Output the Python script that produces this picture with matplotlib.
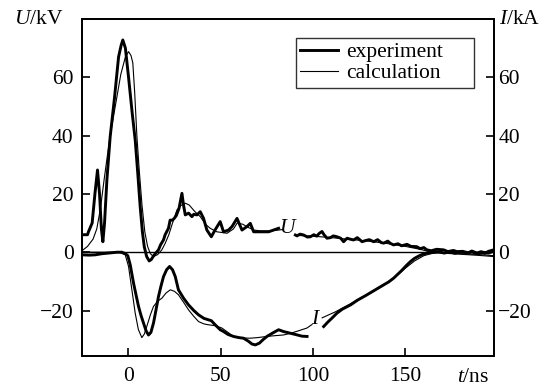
import matplotlib
matplotlib.use("Agg")
import matplotlib.pyplot as plt

plt.rcParams['font.family'] = ['Liberation Serif', 'DejaVu Serif']
plt.rcParams['mathtext.fontset'] = 'custom'
plt.rcParams['mathtext.rm'] = 'Liberation Serif'
plt.rcParams['mathtext.it'] = 'Liberation Serif:italic'

# ---- data (t in ns) ----
u_exp_t1 = [-25, -22, -21.5, -19.5, -18, -16.6, -15.5, -14.5, -13.7, -12.8, -11.5, -9.75, -7.4, -5.2,
            -3.8, -2.9, -1.5, 0.2, 2.3, 3.8, 5.2, 6.5, 7.7, 8.7, 10, 11.4, 12.5, 14, 16.4, 17.5, 19.1,
            20, 21.8, 22.7, 24, 24.9, 26, 27.5, 29.1, 30, 30.9, 32.7, 34.5, 35.5, 37.2, 39, 40.8, 42.6,
            45, 47, 49.8, 51.6, 54.3, 56.2, 58.9, 61.6, 64.3, 66.1, 67.9, 70.6, 73.3, 76, 78.7, 81.4]
u_exp_v1 = [6, 6, 7, 10, 20, 28.2, 20, 8, 3.6, 10, 25, 39.6, 53, 67,
            71, 72.8, 70, 60, 47, 38.5, 27, 15.6, 7, 1.9, -1.5, -3, -2.5, -1, 0.8, 2.5, 4.2,
            6, 8.2, 11, 11, 11.6, 12.5, 15, 20.2, 16, 12.8, 13.4, 12.2, 13, 12.8, 13.9, 11.6, 7.6,
            5.3, 7.6, 10.5, 7, 7.6, 8.8, 11.6, 7.6, 8.8, 9.9, 7, 7, 7, 7, 7.6, 8.2]
u_exp_t2 = [90.5, 91.4, 93, 95, 97, 98.6, 100.5, 102, 103.5, 104.9, 106, 107.6, 109.5, 111, 113, 115,
            116.6, 118.5, 120, 122, 124, 126.6, 128.5, 130.5, 132.9, 135, 137, 138.3, 140.5, 142,
            143.7, 146, 148, 150.9, 153, 156.2, 158, 160, 161.7, 164, 167, 170.8, 173, 176, 178, 181,
            184, 186, 188.8, 191, 193, 195, 197.8]
u_exp_v2 = [5.9, 5.6, 6.2, 5.9, 5.2, 5.3, 6.0, 5.5, 6.5, 7.1, 6.0, 4.8, 5.0, 5.6, 5.3, 4.8,
            3.6, 4.8, 4.5, 4.2, 5.0, 3.6, 4.0, 4.3, 3.6, 4.3, 3.3, 3.1, 3.8, 3.0,
            2.5, 2.9, 2.2, 2.7, 2.0, 1.9, 1.2, 1.6, 0.8, 0.5, 1.0, 0.8, 0.2, 0.6, 0.2, 0.3,
            -0.2, 0.4, -0.3, 0.2, -0.4, 0.3, 0.8]

u_calc_t1 = [-25, -22, -19, -17, -15, -13, -10, -7, -4, -1.5, 0.2, 1.5, 2.5, 3.5, 4.7, 6, 7.5, 9,
             10.5, 12, 13.7, 16, 18.2, 20, 22, 24, 26.4, 28.5, 30.9, 33, 36, 39, 42, 44.4, 48,
             53.5, 57, 59, 62, 65, 68, 72, 76, 80, 84]
u_calc_v1 = [0.5, 2, 4.5, 8, 15, 25, 39, 50, 61, 67, 68.8, 67.5, 65, 55, 40, 28, 16, 7,
             2, -0.5, -1.5, -0.8, 0.8, 3, 6, 10, 14.5, 16, 16.8, 16.2, 14, 12.2, 9.5, 8.2, 7,
             6.5, 8, 10, 9.6, 8.5, 7.6, 7.3, 7.3, 7.5, 7.8]
u_calc_t2 = [90.5, 100, 110, 120, 130, 140, 150, 158, 163, 170, 180, 190, 198]
u_calc_v2 = [5.8, 5.5, 5.0, 4.4, 3.8, 3.0, 2.0, 1.0, 0.2, -0.3, -0.7, -1.1, -1.5]

i_exp_t1 = [-25, -21, -17.9, -14, -10.7, -6, -3.4, -1.5, -0.2, 1.1, 2.9, 4.2, 5.6, 7, 8.3, 9.7, 11,
            12.3, 13.7, 15, 16.4, 17.8, 19.1, 20.8, 22.4, 24, 25.5, 27.2, 30, 32.7, 35.5, 38.1, 41,
            43.5, 45, 47.1, 49.8, 51.6, 54, 57, 60, 62.4, 65, 67, 68.8, 71, 73, 75.1, 78, 81.4, 84,
            87.8, 91, 94, 96.8]
i_exp_v1 = [-0.9, -1, -0.9, -0.5, -0.3, 0, 0, -0.5, -1.2, -4.3, -10.6, -14.5, -18.6, -21.8, -24.3,
            -27, -28.4, -27.5, -24.3, -20, -15.2, -11.5, -8.4, -6, -4.9, -6, -8.4, -12.9, -15.8,
            -18.1, -20, -21.5, -22.7, -23.2, -23.5, -24.9, -26.6, -27.2, -28.2, -28.9, -29.3,
            -29.5, -30.5, -31.5, -31.8, -31.2, -30, -28.9, -27.8, -26.6, -27.2, -27.8, -28.3,
            -28.8, -28.9]
i_exp_t2 = [105.8, 108, 110, 113, 116, 120.3, 124, 129.3, 133, 138.3, 141, 143.7, 146, 148.3, 150.5,
            152.8, 155, 157.3, 159.5, 161.8, 165, 168, 171, 174, 177, 180, 183, 186, 189, 192, 195,
            198]
i_exp_v2 = [-25.5, -24, -22.8, -20.9, -19.5, -18.1, -16.5, -14.6, -13.2, -11.2, -10.2, -8.9, -7.5,
            -6.1, -4.6, -3.2, -2.1, -1.3, -0.7, -0.3, -0.1, 0.2, -0.3, 0.1, -0.4, 0.2, -0.3, 0.1,
            -0.5, 0, -0.3, 0.4]

i_calc_t1 = [-25, -15, -5, -1.6, 0.2, 2, 3.8, 5.5, 7.4, 8.8, 10.1, 12, 13.7, 16, 18.2, 20.5, 22.8,
             25, 27.2, 30, 32.7, 35.5, 38.1, 41, 43.5, 47, 50.7, 54, 57, 61, 66, 70, 75, 80, 84, 88,
             92, 96.8, 99.5]
i_calc_v1 = [0, 0, 0, -0.9, -4.9, -12.9, -20.9, -26.5, -29.3, -28, -25.4, -21.5, -18.6, -16.8,
             -15.8, -14, -12.9, -13.4, -14.6, -17.2, -19.8, -22, -23.8, -24.6, -24.9, -25.2, -26,
             -27.5, -28.9, -29.4, -29.5, -29.3, -28.9, -28.6, -28.4, -27.8, -27, -26, -24.8]
i_calc_t2 = [105, 112, 120, 130, 140, 146, 150, 155, 160, 165, 170, 180, 190, 198]
i_calc_v2 = [-22.5, -20.5, -17.8, -14.2, -10.4, -7.7, -5.5, -3, -1.2, -0.3, -0.2, -0.5, -0.8, -1.2]

x_ticks = [0, 50, 100, 150]
y_ticks = [-20, 0, 20, 40, 60]

# ---- figure ----
fig = plt.figure(figsize=(5.57, 3.91), dpi=100)
ax = fig.add_axes([0.1472, 0.0903, 0.7397, 0.8611])
ax2 = ax.twinx()

THICK, THIN = 2.1, 0.8
ax.axhline(0, color='black', lw=1.0, zorder=1)
ax.plot(u_exp_t1, u_exp_v1, color='black', lw=THICK, label='experiment', solid_joinstyle='round')
ax.plot(u_exp_t2, u_exp_v2, color='black', lw=THICK, solid_joinstyle='round')
ax.plot(u_calc_t1, u_calc_v1, color='black', lw=THIN, label='calculation')
ax.plot(u_calc_t2, u_calc_v2, color='black', lw=THIN)

ax2.plot(i_exp_t1, i_exp_v1, color='black', lw=THICK, solid_joinstyle='round')
ax2.plot(i_exp_t2, i_exp_v2, color='black', lw=THICK, solid_joinstyle='round')
ax2.plot(i_calc_t1, i_calc_v1, color='black', lw=THIN)
ax2.plot(i_calc_t2, i_calc_v2, color='black', lw=THIN)

ax.set_xlim(-25, 198)
ax.set_ylim(-35.5, 80)
ax2.set_ylim(-35.5, 80)
ax.set_xticks(x_ticks)
ax.set_yticks(y_ticks)
ax2.set_yticks(y_ticks)

FS = 15.5
for a in (ax, ax2):
    for s in a.spines.values():
        s.set_linewidth(1.3)
ax.tick_params(axis='x', direction='in', length=6, width=1.2, labelsize=FS, pad=8, top=False)
ax.tick_params(axis='y', direction='in', length=6, width=1.2, labelsize=FS, pad=6, right=False)
ax2.tick_params(axis='y', direction='in', length=6, width=1.2, labelsize=FS, pad=3)

ax.text(86.5, 8, '$U$', fontsize=FS, ha='center', va='center')
ax2.text(101.5, -23, '$I$', fontsize=FS, ha='center', va='center')

fig.text(14 / 557, 1 - 19 / 391, '$U$/kV', fontsize=FS, ha='left', va='center')
fig.text(499 / 557, 1 - 20 / 391, '$I$/kA', fontsize=FS, ha='left', va='center')
fig.text(473 / 557, 1 - 378 / 391, '$t$/ns', fontsize=FS, ha='center', va='center')

leg = ax.legend(loc='upper left', bbox_to_anchor=(0.519, 0.944, 0.432, 0.0), mode='expand',
                borderaxespad=0, fontsize=FS, frameon=True, fancybox=False, handlelength=1.75,
                handletextpad=0.4, labelspacing=0.05, borderpad=0.2)
leg.get_frame().set_edgecolor('black')
leg.get_frame().set_linewidth(1.0)

fig.savefig('out.png', dpi=100)
